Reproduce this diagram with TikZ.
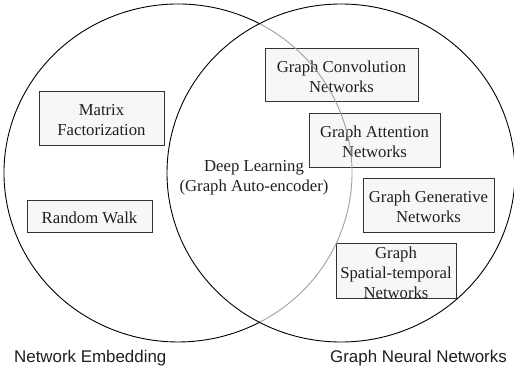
\documentclass[tikz,border=0pt]{standalone}
\usepackage{fontspec}
\setmainfont{Liberation Serif}
\newfontfamily\labelfont{Liberation Sans}
\definecolor{boxfill}{HTML}{F7F7F7}
\definecolor{boxline}{HTML}{333333}
\definecolor{arcgrey}{HTML}{A0A0A0}
\begin{document}
\begin{tikzpicture}[x=1pt,y=1pt,
  box/.style={draw=boxline, fill=boxfill, line width=0.9pt, inner sep=0pt},
  plain/.style={inner sep=0pt, align=center, font=\fontsize{16.7}{20}\selectfont, text=black!88},
  boxtext/.style={label={[plain, yshift=-2pt]center:{#1}}},
  setlabel/.style={inner sep=0pt, anchor=base west, font=\labelfont\fontsize{16.9}{20}\selectfont, text=black!88},
  ring/.style={line width=0.9pt, draw=black}]
\useasboundingbox (0,0) rectangle (514,373);
% boxes
\node[box, minimum width=153, minimum height=53, boxtext={Graph Convolution\\Networks}] (conv) at (341.5,298.5) {};
\node[box, minimum width=131, minimum height=54, boxtext={Graph Attention\\Networks}] (att) at (374.5,233) {};
\node[box, minimum width=131, minimum height=54, boxtext={Graph Generative\\Networks}] (gen) at (428.5,168) {};
\node[box, minimum width=120, minimum height=55, boxtext={Graph\\Spatial-temporal\\Networks}] (spat) at (396,102.5) {};
\node[box, minimum width=125, minimum height=54, boxtext={Matrix\\Factorization}] (mat) at (101.5,255) {};
\node[box, minimum width=125, minimum height=32, boxtext={Random Walk}] (rw) at (89.5,157) {};
% circles
\draw[ring] (178,200) ++(62.07:174 and 169) arc[start angle=62.07, end angle=297.93, x radius=174, y radius=169];
\draw[line width=0.9pt, draw=arcgrey] (178,200) ++(-62.07:174 and 169) arc[start angle=-62.07, end angle=62.07, x radius=174, y radius=169];
\draw[ring] (341,200) ellipse[x radius=174, y radius=169];
% texts
\node[plain] (deep) at (254,195) {Deep Learning\\(Graph Auto-encoder)};
\node[setlabel] (ne) at (14,11) {Network Embedding};
\node[setlabel] (gnn) at (330,11) {Graph Neural Networks};
\end{tikzpicture}
\end{document}
